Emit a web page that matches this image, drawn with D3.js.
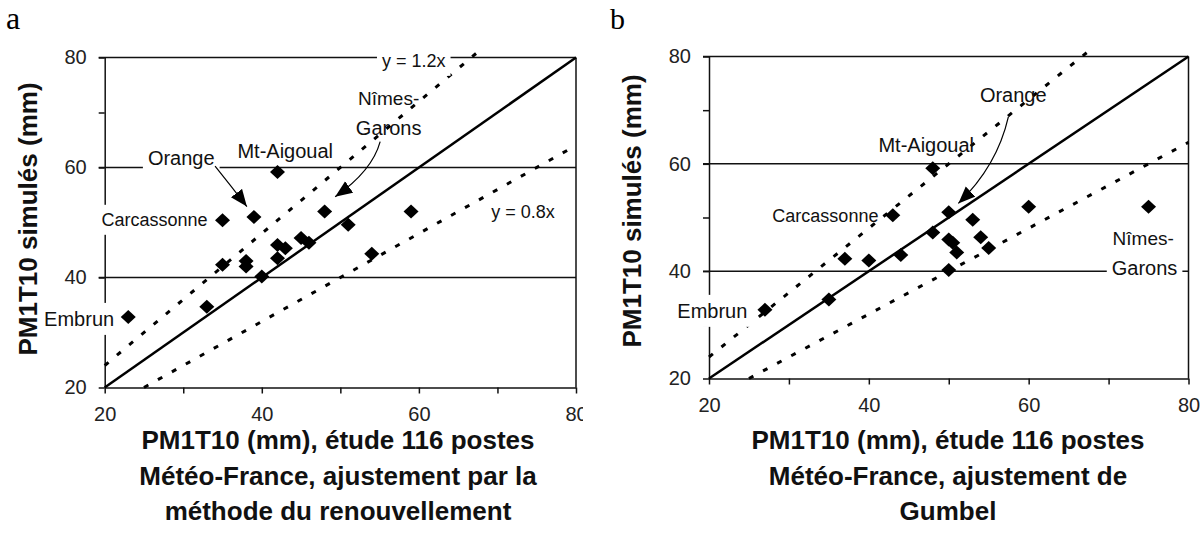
<!DOCTYPE html>
<html>
<head>
<meta charset="utf-8">
<script src="https://cdn.jsdelivr.net/npm/d3@7"></script>
<style>
body { margin: 0; background: #fff; }
svg text { font-family: "Liberation Sans", Arial, sans-serif; fill: #111; }
svg text.letter { font-family: "Liberation Serif", "Times New Roman", serif; fill: #000; }
</style>
</head>
<body>
<svg id="chart" width="1200" height="549"></svg>
<script>
// stations, same order in both panels
var stations = ["Embrun", "", "", "Carcassonne", "", "", "Orange", "", "Mt-Aigoual", "", "", "", "", "", "Nîmes-Garons", "", "", ""];
var simules = [32.8, 34.7, 42.3, 50.4, 42.0, 43.0, 51.0, 40.2, 59.2, 43.5, 45.9, 45.3, 47.2, 46.3, 52.0, 49.6, 44.3, 52.0];
var renouvellement = [23, 33, 35, 35, 38, 38, 39, 40, 42, 42, 42, 43, 45, 46, 48, 51, 54, 59];
var gumbel = [27, 35, 37, 43, 40, 44, 50, 50, 48, 51, 50, 50.5, 48, 54, 75, 53, 55, 60];

var tickValues = [20, 30, 40, 50, 60, 70, 80];
var tickLabels = [20, 40, 60, 80];
var gridValues = [40, 60, 80];

// y = k*x reference lines (start / end in x)
var refLines = [
    {k: 1.2, x0: 20, x1: 67.5, dotted: true},
    {k: 1.0, x0: 20, x1: 80, dotted: false},
    {k: 0.8, x0: 25, x1: 80, dotted: true}
];

var yTitle = "PM1T10 simulés (mm)";
var titleA = ["PM1T10 (mm), étude 116 postes", "Météo-France, ajustement par la", "méthode du renouvellement"];
var titleB = ["PM1T10 (mm), étude 116 postes", "Météo-France, ajustement de", "Gumbel"];

// labels in data units
var labelsA = [
    {t: "y = 1.2x", x: 55.3, y: 78.3, size: 18, anchor: "start", bg: true},
    {t: "Orange", x: 25.5, y: 60.5, size: 20, anchor: "start", bg: true},
    {t: "Mt-Aigoual", x: 36.9, y: 61.7, size: 20, anchor: "start", bg: false},
    {t: "Nîmes-", x: 56.15, y: 71.4, size: 19, anchor: "middle", bg: false},
    {t: "Garons", x: 56.15, y: 66.0, size: 20, anchor: "middle", bg: false},
    {t: "Carcassonne", x: 33.1, y: 49.4, size: 18, anchor: "end", bg: true},
    {t: "Embrun", x: 21.2, y: 31.2, size: 20, anchor: "end", bg: true},
    {t: "y = 0.8x", x: 69.2, y: 50.8, size: 18, anchor: "start", bg: false}
];
var labelsB = [
    {t: "Orange", x: 53.9, y: 71.5, size: 20, anchor: "start", bg: false},
    {t: "Mt-Aigoual", x: 41.2, y: 62.2, size: 20, anchor: "start", bg: false},
    {t: "Carcassonne", x: 41.2, y: 49.2, size: 18, anchor: "end", bg: false},
    {t: "Embrun", x: 24.8, y: 31.3, size: 20, anchor: "end", bg: true},
    {t: "Nîmes-", x: 70.5, y: 44.9, size: 19, anchor: "start", bg: false},
    {t: "Garons", x: 70.4, y: 39.3, size: 20, anchor: "start", bg: true}
];
// arrows: start, control, tip (data units)
var arrowsA = [
    {p0: [34.05, 60.25], c: [36.1, 56.6], p1: [38.1, 52.9]},
    {p0: [55.07, 64.7], c: [54.05, 59.36], p1: [49.34, 54.69]}
];
var arrowsB = [
    {p0: [57.46, 68.75], c: [56.05, 59.57], p1: [51.2, 52.63]}
];

var svg = d3.select("#chart");

var defs = svg.append("defs");
defs.append("marker")
    .attr("id", "head")
    .attr("markerUnits", "userSpaceOnUse")
    .attr("markerWidth", 18).attr("markerHeight", 16)
    .attr("refX", 17).attr("refY", 7)
    .attr("orient", "auto")
    .append("path").attr("d", "M0,0 L17,7 L0,14 Z").attr("fill", "#000");
defs.append("clipPath").attr("id", "clipA")
    .append("rect").attr("x", 0).attr("y", 0).attr("width", 583).attr("height", 549);

var diamond = {
    draw: function(ctx) {
        ctx.moveTo(0, -7); ctx.lineTo(7.5, 0); ctx.lineTo(0, 7); ctx.lineTo(-7.5, 0); ctx.closePath();
    }
};

function drawPanel(cfg) {
    var g = svg.append("g");
    if (cfg.clip) g.attr("clip-path", "url(#" + cfg.clip + ")");

    var x = d3.scaleLinear().domain([20, 80]).range([cfg.left, cfg.right]);
    var y = d3.scaleLinear().domain([20, 80]).range([cfg.bottom, cfg.top]);
    var fmt = d => tickLabels.includes(d) ? d : "";

    var xAxis = g.append("g")
        .attr("transform", `translate(0,${cfg.bottom})`)
        .call(d3.axisBottom(x).tickValues(tickValues).tickSize(6).tickSizeOuter(0).tickPadding(13).tickFormat(fmt));
    var yAxis = g.append("g")
        .attr("transform", `translate(${cfg.left},0)`)
        .call(d3.axisLeft(y).tickValues(tickValues).tickSize(6).tickSizeOuter(0).tickPadding(12).tickFormat(fmt));
    [xAxis, yAxis].forEach(function(a) {
        a.selectAll("path, line").attr("stroke", "#111").attr("stroke-width", 1.5);
        a.selectAll("text").attr("font-size", 20).style("fill", "#222");
    });

    // horizontal grid + box
    g.selectAll(".grid").data(gridValues).enter().append("line")
        .attr("x1", cfg.left - 6).attr("x2", cfg.right)
        .attr("y1", d => y(d)).attr("y2", d => y(d))
        .attr("stroke", "#111").attr("stroke-width", 1.5);
    g.append("line")
        .attr("x1", cfg.right).attr("x2", cfg.right)
        .attr("y1", y(80)).attr("y2", y(20))
        .attr("stroke", "#111").attr("stroke-width", 1.5);

    // y = kx lines
    var line = d3.line().x(d => x(d[0])).y(d => y(d[1]));
    g.selectAll(".ref").data(refLines).enter().append("path")
        .attr("d", d => line([[d.x0, d.k * d.x0], [d.x1, d.k * d.x1]]))
        .attr("fill", "none").attr("stroke", "#000")
        .attr("stroke-width", d => d.dotted ? 3 : 2.5)
        .attr("stroke-dasharray", d => d.dotted ? "5 11" : null);

    // labels with white boxes
    cfg.labels.forEach(function(l) {
        var t = g.append("text")
            .attr("x", x(l.x)).attr("y", y(l.y))
            .attr("text-anchor", l.anchor)
            .attr("font-size", l.size)
            .text(l.t);
        if (l.bg) {
            var b = t.node().getBBox();
            g.insert("rect", function() { return t.node(); })
                .attr("x", b.x - 5).attr("y", b.y - 5)
                .attr("width", b.width + 10).attr("height", b.height + 10)
                .attr("fill", "#fff");
        }
    });

    // arrows
    cfg.arrows.forEach(function(a) {
        var p = d3.path();
        p.moveTo(x(a.p0[0]), y(a.p0[1]));
        p.quadraticCurveTo(x(a.c[0]), y(a.c[1]), x(a.p1[0]), y(a.p1[1]));
        g.append("path").attr("d", p.toString())
            .attr("fill", "none").attr("stroke", "#000").attr("stroke-width", 1.2)
            .attr("marker-end", "url(#head)");
    });

    // points
    g.selectAll(".pt").data(simules).enter().append("path")
        .attr("d", d3.symbol(diamond))
        .attr("transform", (d, i) => `translate(${x(cfg.xs[i])},${y(d)})`)
        .attr("fill", "#000");

    // axis titles
    g.append("text")
        .attr("transform", `translate(${cfg.yTitleX},${cfg.yTitleY}) rotate(-90)`)
        .attr("text-anchor", "middle")
        .attr("font-size", 26).attr("font-weight", "bold")
        .text(yTitle);
    g.selectAll(".xt").data(cfg.title).enter().append("text")
        .attr("x", cfg.titleX)
        .attr("y", (d, i) => 449 + i * 35.5)
        .attr("text-anchor", "middle")
        .attr("font-size", 26).attr("font-weight", "bold")
        .text(d => d);

    svg.append("text")
        .attr("class", "letter")
        .attr("x", cfg.letterX).attr("y", 29)
        .attr("font-size", cfg.letterSize)
        .text(cfg.letter);
}

drawPanel({
    left: 104.7, right: 576, top: 57.5, bottom: 387.5,
    xs: renouvellement, labels: labelsA, arrows: arrowsA,
    title: titleA, titleX: 338, yTitleX: 37, yTitleY: 219, clip: "clipA",
    letter: "a", letterX: 6, letterSize: 32
});
drawPanel({
    left: 709, right: 1188.5, top: 56.5, bottom: 378.5,
    xs: gumbel, labels: labelsB, arrows: arrowsB,
    title: titleB, titleX: 948, yTitleX: 641, yTitleY: 211,
    letter: "b", letterX: 610, letterSize: 30
});
</script>
</body>
</html>
